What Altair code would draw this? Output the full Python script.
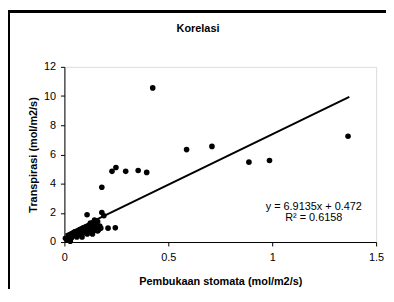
import altair as alt
import pandas as pd

# Data
x_vals = [0.005, 0.012, 0.02, 0.028, 0.03, 0.035, 0.04, 0.045, 0.05, 0.055, 0.06, 0.065,
          0.07, 0.075, 0.08, 0.085, 0.09, 0.095, 0.10, 0.105, 0.11, 0.115, 0.12, 0.125,
          0.13, 0.135, 0.14, 0.145, 0.15, 0.155, 0.16, 0.165, 0.17, 0.175, 0.135, 0.125,
          0.145, 0.16, 0.085,
          0.109, 0.18, 0.19, 0.21, 0.245, 0.18, 0.229, 0.248, 0.295, 0.355, 0.396,
          0.425, 0.588, 0.71, 0.888, 0.987, 1.365]
y_vals = [0.25, 0.15, 0.4, 0.05, 0.5, 0.3, 0.6, 0.45, 0.7, 0.55, 0.35, 0.75,
          0.6, 0.85, 0.5, 0.8, 0.95, 0.65, 0.75, 1.05, 0.55, 0.9, 1.15, 0.7,
          1.25, 0.95, 1.35, 0.8, 1.2, 1.0, 1.4, 0.85, 1.1, 0.95, 0.55, 1.3,
          1.5, 0.75, 0.35,
          1.87, 2.02, 1.8, 0.95, 0.97, 3.75, 4.84, 5.1, 4.84, 4.9, 4.77,
          10.56, 6.33, 6.55, 5.47, 5.58, 7.25]

slope = 6.9135
intercept = 0.472
trend_x = [0.005, 1.371]
eq_lines = ["y = 6.9135x + 0.472", "R\u00b2 = 0.6158"]
eq_x = [1.2, 1.2]
eq_y = [2.42, 1.67]

x_ticks = [0, 0.5, 1, 1.5]
y_ticks = [0, 2, 4, 6, 8, 10, 12]
chart_title = ["Korelasi"]

FONT = "Liberation Sans"

pts = pd.DataFrame({"x": x_vals, "y": y_vals})
trend = pd.DataFrame({"x": trend_x, "y": [slope * v + intercept for v in trend_x]})
eq = pd.DataFrame({"x": eq_x, "y": eq_y, "t": eq_lines})
ttl = pd.DataFrame({"t": chart_title})

xscale = alt.Scale(domain=[0, 1.5], nice=False, zero=False)
yscale = alt.Scale(domain=[0, 12], nice=False)

xaxis = alt.Axis(values=x_ticks, format="~g", grid=False, domainColor="black",
                 tickColor="black", tickSize=4, labelPadding=6, labelFontSize=11,
                 labelFont=FONT, labelColor="black", title="Pembukaan stomata (mol/m2/s)",
                 titleFont=FONT, titleFontSize=11, titleFontWeight="bold",
                 titleColor="black", titlePadding=13, labelFlush=False,
                 labelOverlap=False)
yaxis = alt.Axis(values=y_ticks, grid=False, domainColor="black", tickColor="black",
                 tickSize=4, labelPadding=5, labelFontSize=11, labelFont=FONT,
                 labelColor="black", title="Transpirasi (mol/m2/s)", titleFont=FONT,
                 titleFontSize=11, titleFontWeight="bold", titleColor="black",
                 titlePadding=5, labelFlush=False, labelOverlap=False)

X = alt.X("x:Q", scale=xscale, axis=xaxis)
Y = alt.Y("y:Q", scale=yscale, axis=yaxis)

points = alt.Chart(pts).mark_circle(size=32, color="black", opacity=1).encode(x=X, y=Y)

line = alt.Chart(trend).mark_line(color="black", strokeWidth=2).encode(x=X, y=Y)

text = alt.Chart(eq).mark_text(font=FONT, fontSize=11, color="black", align="center",
                               baseline="middle").encode(x=X, y=Y, text="t:N")

title_mark = alt.Chart(ttl).mark_text(font=FONT, fontSize=11, fontWeight="bold",
                                      color="black", align="center",
                                      baseline="middle").encode(
    x=alt.value(135), y=alt.value(-38), text="t:N"
)

border_top = alt.Chart(pts).mark_rule(color="black", strokeWidth=1.5).encode(
    x=alt.value(-57), x2=alt.value(340), y=alt.value(-56)
)
border_left = alt.Chart(pts).mark_rule(color="black", strokeWidth=1.5).encode(
    x=alt.value(-56.5), y=alt.value(-56), y2=alt.value(240)
)

chart = alt.layer(border_top, border_left, line, points, text, title_mark).properties(
    width=315,
    height=177,
    autosize=alt.AutoSizeParams(type="none"),
    padding={"left": 57, "top": 58, "right": 10, "bottom": 46},
).configure_view(stroke="#808080", strokeWidth=1).configure(background="white")

chart.save("out.html", embed_options={"renderer": "svg", "actions": False})
